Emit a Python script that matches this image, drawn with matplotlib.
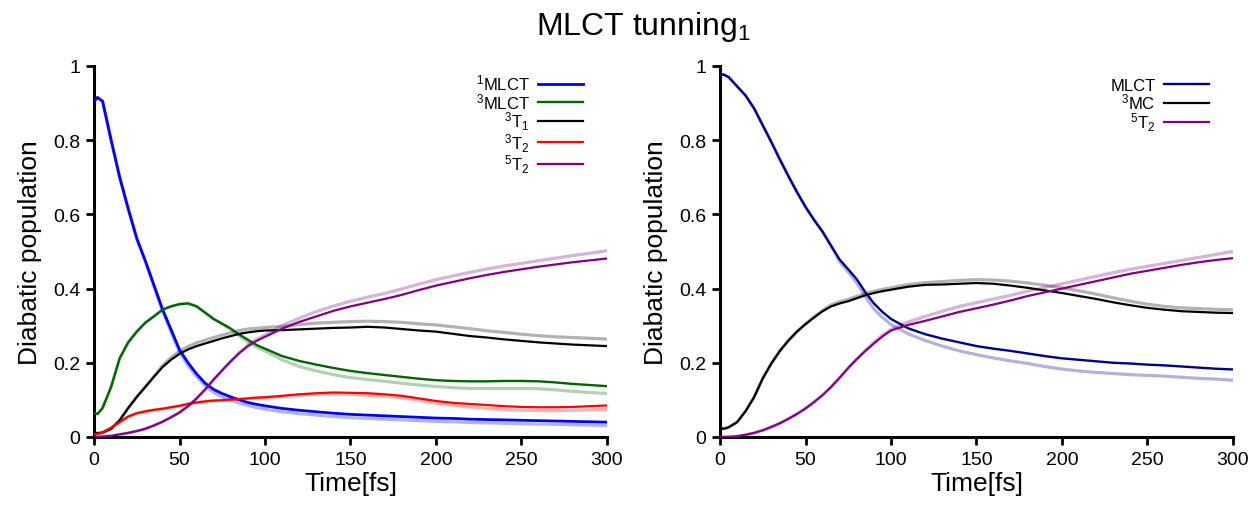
import matplotlib
matplotlib.use('Agg')
import matplotlib.pyplot as plt
import numpy as np

plt.rcParams['font.family'] = ['Liberation Sans', 'DejaVu Sans']
plt.rcParams['mathtext.default'] = 'regular'

# time grid (fs) shared by all series
t = [0, 2, 5, 10, 15, 20, 25, 30, 35, 40, 45, 50, 55, 60, 65, 70, 75, 80, 85, 90, 95,
     100, 110, 120, 130, 140, 150, 160, 170, 180, 190, 200, 210, 220, 230, 240, 250,
     260, 270, 280, 290, 300]

# ---- left panel: five diabatic states ----
mlct1 = [0.905, 0.915, 0.905, 0.80, 0.70, 0.615, 0.535, 0.475, 0.41, 0.345, 0.29, 0.235,
         0.20, 0.17, 0.145, 0.128, 0.117, 0.108, 0.100, 0.093, 0.088, 0.084, 0.077, 0.072,
         0.068, 0.064, 0.061, 0.059, 0.057, 0.055, 0.053, 0.051, 0.050, 0.048, 0.047,
         0.046, 0.045, 0.044, 0.043, 0.042, 0.041, 0.040]
mlct1_ref = [0.905, 0.915, 0.905, 0.80, 0.70, 0.615, 0.535, 0.473, 0.405, 0.34, 0.283,
             0.228, 0.192, 0.162, 0.138, 0.12, 0.108, 0.099, 0.091, 0.085, 0.079, 0.075,
             0.068, 0.063, 0.059, 0.055, 0.052, 0.050, 0.048, 0.046, 0.044, 0.042, 0.041,
             0.039, 0.038, 0.037, 0.036, 0.035, 0.034, 0.033, 0.032, 0.031]

mlct3 = [0.065, 0.062, 0.078, 0.135, 0.212, 0.255, 0.284, 0.308, 0.325, 0.343, 0.352, 0.358,
         0.36, 0.352, 0.335, 0.318, 0.305, 0.292, 0.276, 0.262, 0.248, 0.238, 0.218, 0.205,
         0.195, 0.186, 0.178, 0.172, 0.167, 0.162, 0.157, 0.153, 0.151, 0.150, 0.150,
         0.151, 0.151, 0.150, 0.147, 0.143, 0.140, 0.137]
mlct3_ref = [0.065, 0.062, 0.078, 0.135, 0.212, 0.255, 0.284, 0.308, 0.325, 0.343, 0.352,
             0.358, 0.36, 0.352, 0.335, 0.318, 0.305, 0.29, 0.272, 0.256, 0.242, 0.232,
             0.208, 0.19, 0.178, 0.168, 0.16, 0.155, 0.15, 0.145, 0.14, 0.136, 0.133,
             0.131, 0.131, 0.131, 0.131, 0.13, 0.127, 0.123, 0.12, 0.117]

t1_3 = [0.012, 0.010, 0.012, 0.022, 0.045, 0.078, 0.108, 0.135, 0.162, 0.188, 0.208,
        0.224, 0.236, 0.245, 0.252, 0.259, 0.266, 0.272, 0.278, 0.282, 0.285, 0.287,
        0.288, 0.29, 0.292, 0.294, 0.295, 0.297, 0.295, 0.291, 0.287, 0.284, 0.278,
        0.272, 0.268, 0.263, 0.259, 0.255, 0.252, 0.249, 0.247, 0.245]
t1_3_ref = [0.012, 0.010, 0.012, 0.022, 0.045, 0.078, 0.108, 0.135, 0.163, 0.192, 0.214,
            0.231, 0.244, 0.254, 0.261, 0.268, 0.275, 0.281, 0.287, 0.291, 0.293, 0.295,
            0.298, 0.303, 0.307, 0.309, 0.311, 0.312, 0.311, 0.309, 0.305, 0.302, 0.297,
            0.292, 0.286, 0.282, 0.277, 0.273, 0.27, 0.268, 0.266, 0.264]

t2_3 = [0.008, 0.008, 0.012, 0.025, 0.04, 0.055, 0.064, 0.069, 0.073, 0.076, 0.08, 0.084,
        0.089, 0.093, 0.096, 0.098, 0.099, 0.101, 0.102, 0.104, 0.106, 0.107, 0.111,
        0.115, 0.118, 0.12, 0.119, 0.118, 0.115, 0.111, 0.104, 0.097, 0.092, 0.089,
        0.086, 0.083, 0.081, 0.08, 0.08, 0.081, 0.083, 0.085]
t2_3_ref = [0.008, 0.008, 0.012, 0.025, 0.04, 0.055, 0.064, 0.069, 0.073, 0.076, 0.08,
            0.084, 0.089, 0.093, 0.096, 0.098, 0.099, 0.101, 0.102, 0.104, 0.105, 0.106,
            0.109, 0.113, 0.115, 0.116, 0.115, 0.113, 0.11, 0.106, 0.099, 0.091, 0.085,
            0.081, 0.077, 0.074, 0.072, 0.071, 0.071, 0.072, 0.073, 0.074]

t2_5 = [0.0, 0.0, 0.001, 0.003, 0.007, 0.011, 0.016, 0.022, 0.031, 0.041, 0.053, 0.066,
        0.083, 0.104, 0.128, 0.155, 0.18, 0.204, 0.226, 0.245, 0.259, 0.27, 0.292, 0.31,
        0.325, 0.34, 0.352, 0.362, 0.372, 0.383, 0.396, 0.408, 0.418, 0.428, 0.437,
        0.445, 0.452, 0.459, 0.465, 0.471, 0.476, 0.481]
t2_5_ref = [0.0, 0.0, 0.001, 0.003, 0.007, 0.011, 0.016, 0.022, 0.031, 0.041, 0.053,
            0.066, 0.083, 0.104, 0.128, 0.155, 0.18, 0.205, 0.228, 0.248, 0.263, 0.275,
            0.3, 0.32, 0.338, 0.353, 0.366, 0.377, 0.387, 0.399, 0.412, 0.424, 0.434,
            0.444, 0.453, 0.461, 0.468, 0.475, 0.482, 0.489, 0.495, 0.502]

# ---- right panel: three-state model ----
mlct = [0.975, 0.977, 0.97, 0.945, 0.92, 0.885, 0.84, 0.795, 0.748, 0.703, 0.66, 0.62,
        0.585, 0.553, 0.515, 0.478, 0.452, 0.425, 0.39, 0.36, 0.337, 0.318, 0.293, 0.277,
        0.265, 0.255, 0.245, 0.238, 0.232, 0.225, 0.218, 0.212, 0.208, 0.204, 0.2,
        0.198, 0.195, 0.193, 0.19, 0.187, 0.184, 0.182]
mlct_ref = [0.975, 0.977, 0.97, 0.945, 0.92, 0.885, 0.84, 0.795, 0.748, 0.703, 0.66,
            0.62, 0.585, 0.553, 0.515, 0.472, 0.445, 0.415, 0.378, 0.345, 0.322, 0.303,
            0.278, 0.26, 0.245, 0.232, 0.222, 0.213, 0.205, 0.198, 0.19, 0.183, 0.178,
            0.174, 0.171, 0.168, 0.166, 0.164, 0.161, 0.158, 0.156, 0.153]

mc3 = [0.024, 0.022, 0.026, 0.04, 0.07, 0.108, 0.158, 0.198, 0.232, 0.26, 0.284, 0.304,
       0.322, 0.339, 0.352, 0.36, 0.366, 0.374, 0.382, 0.388, 0.393, 0.397, 0.405, 0.41,
       0.411, 0.413, 0.415, 0.413, 0.408, 0.402, 0.395, 0.388, 0.38, 0.372, 0.363, 0.355,
       0.348, 0.343, 0.339, 0.337, 0.335, 0.334]
mc3_ref = [0.024, 0.022, 0.026, 0.04, 0.07, 0.108, 0.158, 0.198, 0.232, 0.26, 0.284,
           0.305, 0.324, 0.341, 0.356, 0.365, 0.371, 0.379, 0.387, 0.393, 0.398, 0.402,
           0.411, 0.416, 0.419, 0.422, 0.424, 0.423, 0.42, 0.415, 0.409, 0.402, 0.394,
           0.385, 0.375, 0.366, 0.358, 0.352, 0.348, 0.346, 0.344, 0.343]

t2_5b = [0.0, 0.0, 0.0, 0.002, 0.006, 0.011, 0.018, 0.027, 0.037, 0.049, 0.062, 0.077,
         0.094, 0.113, 0.135, 0.16, 0.186, 0.21, 0.232, 0.252, 0.271, 0.287, 0.302, 0.313,
         0.325, 0.337, 0.347, 0.357, 0.368, 0.38, 0.39, 0.4, 0.41, 0.42, 0.43, 0.44,
         0.448, 0.456, 0.464, 0.471, 0.477, 0.482]
t2_5b_ref = [0.0, 0.0, 0.0, 0.002, 0.006, 0.011, 0.018, 0.027, 0.037, 0.049, 0.062,
             0.077, 0.094, 0.113, 0.135, 0.16, 0.186, 0.21, 0.233, 0.255, 0.275, 0.29,
             0.31, 0.325, 0.339, 0.352, 0.362, 0.372, 0.382, 0.393, 0.403, 0.413, 0.423,
             0.433, 0.443, 0.452, 0.46, 0.468, 0.476, 0.484, 0.492, 0.5]

left_series = [
    (mlct1, mlct1_ref, '#0000ff', '$^1$MLCT', 2.0),
    (mlct3, mlct3_ref, '#006400', '$^3$MLCT', 1.7),
    (t1_3, t1_3_ref, '#000000', '$^3$T$_1$', 1.6),
    (t2_3, t2_3_ref, '#ff0000', '$^3$T$_2$', 1.6),
    (t2_5, t2_5_ref, '#800080', '$^5$T$_2$', 1.6),
]
right_series = [
    (mlct, mlct_ref, '#00008b', 'MLCT', 1.7),
    (mc3, mc3_ref, '#000000', '$^3$MC', 1.6),
    (t2_5b, t2_5b_ref, '#800080', '$^5$T$_2$', 1.6),
]

fig = plt.figure(figsize=(12.52, 5.10), dpi=100)
ax1 = fig.add_axes([0.0751, 0.1412, 0.4097, 0.7275])
ax2 = fig.add_axes([0.5751, 0.1412, 0.4097, 0.7275])

legend_anchor = {ax1: (0.966, 1.0), ax2: (0.966, 0.985)}

for ax, series in [(ax1, left_series), (ax2, right_series)]:
    # faded reference curves underneath
    for vals, ref, col, lab, lw in series:
        ax.plot(t, ref, color=col, lw=2.3, alpha=0.3, zorder=2)
    for vals, ref, col, lab, lw in series:
        ax.plot(t, vals, color=col, lw=lw, label=lab, zorder=3)

    ax.set_xlim(0, 300)
    ax.set_ylim(0, 1)
    ax.set_xticks([0, 50, 100, 150, 200, 250, 300])
    ax.set_yticks([0, 0.2, 0.4, 0.6, 0.8, 1.0])
    ax.set_yticklabels(['0', '0.2', '0.4', '0.6', '0.8', '1'])
    ax.spines['top'].set_visible(False)
    ax.spines['right'].set_visible(False)
    ax.spines['left'].set_linewidth(2.2)
    ax.spines['bottom'].set_linewidth(2.2)
    ax.tick_params(direction='out', length=6, width=2, labelsize=14, pad=4)
    ax.set_xlabel('Time[fs]', fontsize=19, labelpad=2)
    ax.set_ylabel('Diabatic population', fontsize=19, labelpad=8)
    ax.legend(loc='upper right', frameon=False, markerfirst=False, fontsize=12,
              handlelength=2.7, handletextpad=0.5, labelspacing=-0.08,
              borderaxespad=0.0, bbox_to_anchor=legend_anchor[ax])

fig.suptitle('MLCT tunning$_1$', fontsize=23, x=0.514, y=0.98)

plt.savefig('out.png', dpi=100)
